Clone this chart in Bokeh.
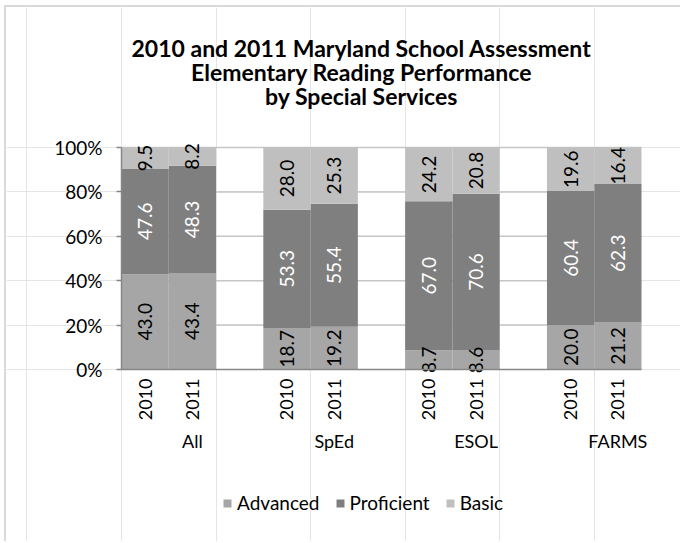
import math
from bokeh.plotting import figure
from bokeh.models import (ColumnDataSource, Range1d, FixedTicker, LinearAxis, Legend,
                          LegendItem, Label, PrintfTickFormatter)
from bokeh.core.properties import value
from bokeh.embed import file_html
from bokeh.resources import INLINE

# ---------------- data ----------------
groups = ["All", "SpEd", "ESOL", "FARMS"]
years = ["2010", "2011"]
advanced = [43.0, 43.4, 18.7, 19.2, 8.7, 8.6, 20.0, 21.2]
proficient = [47.6, 48.3, 53.3, 55.4, 67.0, 70.6, 60.4, 62.3]
basic = [9.5, 8.2, 28.0, 25.3, 24.2, 20.8, 19.6, 16.4]
series_names = ["Advanced", "Proficient", "Basic"]
y_ticks = [0, 20, 40, 60, 80, 100]
title_lines = ["2010 and 2011 Maryland School Assessment",
               "Elementary Reading Performance",
               "by Special Services"]

# ---------------- styles / layout ----------------
FONT = "Lato"
series_colors = ["#a6a6a6", "#7f7f7f", "#bfbfbf"]
label_colors = ["#000000", "#ffffff", "#000000"]
W, H = 676, 536                 # canvas size (inside the chart border)
PLOT_L, PLOT_R = 115, 635       # plot area in canvas pixels
PLOT_T, PLOT_B = 140, 362
slots_per_group = 3             # 2010, 2011, blank spacer

xs, year_text = [], []
for g in range(len(groups)):
    for j in range(len(years)):
        xs.append(g * slots_per_group + j + 0.5)
        year_text.append(years[j])
n_slots = (len(groups) - 1) * slots_per_group + len(years)
group_centers = [g * slots_per_group + slots_per_group / 2 for g in range(len(groups))]

series_vals = [advanced, proficient, basic]
totals = [sum(v[i] for v in series_vals) for i in range(len(xs))]
norm = [[v[i] / totals[i] * 100 for i in range(len(xs))] for v in series_vals]

slot_px = (PLOT_R - PLOT_L) / n_slots
y_px = (PLOT_B - PLOT_T) / 100.0
x_range = Range1d(-PLOT_L / slot_px, n_slots + (W - PLOT_R) / slot_px)
y_range = Range1d(-(H - PLOT_B) / y_px, 100 + PLOT_T / y_px)

src = ColumnDataSource({"x": xs, **{series_names[k]: norm[k] for k in range(3)}})

p = figure(width=W, height=H, x_range=x_range, y_range=y_range,
           output_backend="svg", toolbar_location=None,
           x_axis_location=None, y_axis_location=None, min_border=0)
p.outline_line_color = None
p.background_fill_color = "white"
p.border_fill_color = "white"
p.margin = (5, 0, 0, 4)
p.styles = {"border-top": "2px solid #d9d9d9", "border-left": "2px solid #d9d9d9"}

# horizontal gridlines, limited to the plot area
grid_vals = y_ticks[1:]
gsrc = ColumnDataSource({"y": grid_vals, "x0": [0] * len(grid_vals), "x1": [n_slots] * len(grid_vals)})
p.segment(x0="x0", x1="x1", y0="y", y1="y", source=gsrc, line_color="#c6c6c6", line_width=1.5)

renderers = p.vbar_stack(series_names, x="x", width=1.0, source=src,
                         color=series_colors, line_color=None)

# data labels
lx, ly, lt, lc = [], [], [], []
for i in range(len(xs)):
    bottom = 0
    for k in range(3):
        h = norm[k][i]
        lx.append(xs[i]); ly.append(bottom + h / 2)
        lt.append("%.1f" % series_vals[k][i]); lc.append(label_colors[k])
        bottom += h
lsrc = ColumnDataSource({"x": lx, "y": ly, "t": lt, "c": lc})
p.text(x="x", y="y", text="t", source=lsrc, angle=math.pi / 2, text_align="center",
       text_baseline="middle", text_color="c", text_font=value(FONT), text_font_size="19px")

# y axis
yaxis = LinearAxis(ticker=FixedTicker(ticks=y_ticks), formatter=PrintfTickFormatter(format="%d%%"),
                   fixed_location=0, bounds=(0, 100))
yaxis.axis_line_color = "#868686"
yaxis.axis_line_width = 1.5
yaxis.major_tick_line_color = "#868686"
yaxis.major_tick_line_width = 1.5
yaxis.major_tick_out = 5
yaxis.major_tick_in = 0
yaxis.minor_tick_line_color = None
yaxis.major_label_standoff = 14
yaxis.major_label_text_font = FONT
yaxis.major_label_text_font_size = "19px"
yaxis.major_label_text_color = "#000000"
p.add_layout(yaxis, "left")

# x axis: years
xaxis = LinearAxis(ticker=FixedTicker(ticks=xs), fixed_location=0, bounds=(0, n_slots),
                   major_label_overrides={xs[i]: year_text[i] for i in range(len(xs))})
xaxis.axis_line_color = "#868686"
xaxis.axis_line_width = 1.5
xaxis.major_tick_line_color = None
xaxis.major_tick_out = 0
xaxis.major_tick_in = 0
xaxis.minor_tick_line_color = None
xaxis.major_label_orientation = math.pi / 2
xaxis.major_label_standoff = 9
xaxis.major_label_text_font = FONT
xaxis.major_label_text_font_size = "18px"
xaxis.major_label_text_color = "#000000"
p.add_layout(xaxis, "below")

# x axis: groups
gaxis = LinearAxis(ticker=FixedTicker(ticks=group_centers), fixed_location=0,
                   major_label_overrides={group_centers[g]: groups[g] for g in range(len(groups))})
gaxis.axis_line_color = None
gaxis.major_tick_line_color = None
gaxis.major_tick_out = 0
gaxis.major_tick_in = 0
gaxis.minor_tick_line_color = None
gaxis.major_label_standoff = 60
gaxis.major_label_text_font = FONT
gaxis.major_label_text_font_size = "18px"
gaxis.major_label_text_color = "#000000"
p.add_layout(gaxis, "below")

# title (screen units, relative to the canvas frame)
for n, line in enumerate(title_lines):
    p.add_layout(Label(x=355, y=H - 40 - 24 * n, x_units="screen", y_units="screen", text=line,
                       text_align="center", text_baseline="middle", text_font=FONT,
                       text_font_style="bold", text_font_size="23px", text_color="#000000"))

legend = Legend(items=[LegendItem(label=series_names[k], renderers=[renderers[k]]) for k in range(3)],
                orientation="horizontal", location=(216, 29),
                glyph_width=10, glyph_height=10, label_standoff=5, spacing=15,
                padding=0, margin=0, border_line_color=None, background_fill_alpha=0,
                label_text_font=FONT, label_text_font_size="19px", label_text_color="#000000")
p.add_layout(legend)

open("out.html", "w").write(file_html(p, INLINE))
